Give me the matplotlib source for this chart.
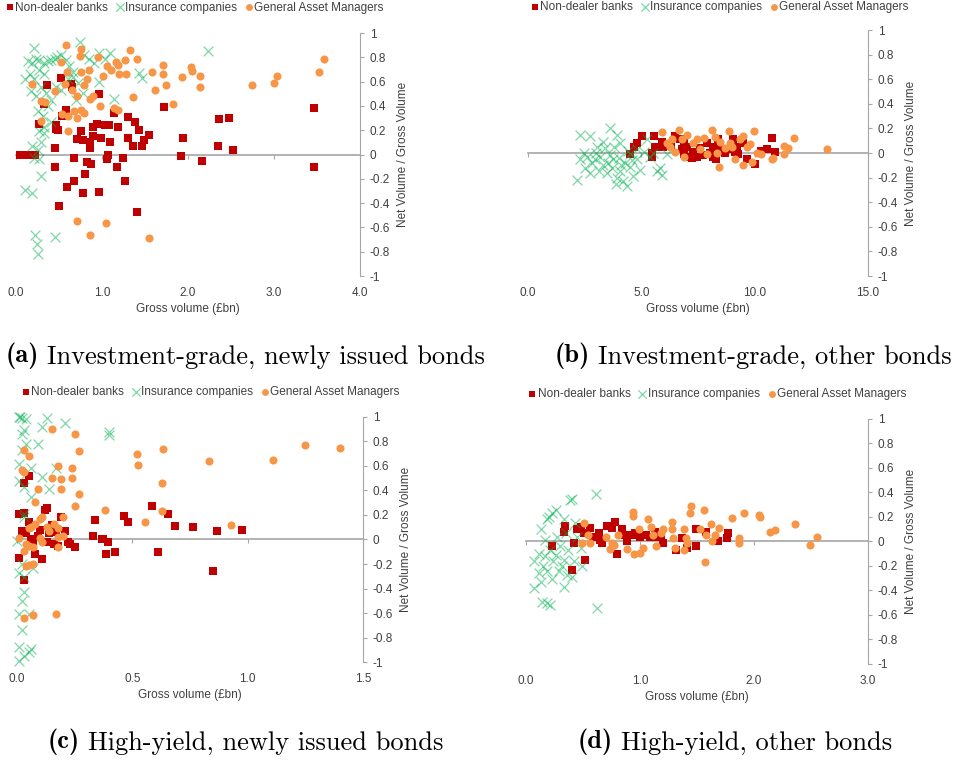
import numpy as np
import matplotlib
matplotlib.use('Agg')
import matplotlib.pyplot as plt
from matplotlib.ticker import FuncFormatter, FixedLocator

plt.rcParams['font.family'] = ['Liberation Sans', 'DejaVu Sans']
plt.rcParams['axes.unicode_minus'] = False

#%% data (x = gross volume in bn, y = net / gross)
# (a) investment-grade, newly issued
a_bank_x = [0.05,0.10,0.15,0.22,0.36,0.32,0.27,0.52,0.64,0.65,0.58,0.53,0.47,0.46,0.49,0.45,0.45,
            0.59,0.50,0.67,0.68,0.78,0.80,0.83,0.87,0.86,0.86,0.76,0.78,0.71,0.90,0.90,0.94,0.97,
            0.96,0.99,1.04,1.08,1.07,1.06,1.09,1.14,1.19,1.18,1.24,1.27,1.30,1.30,1.36,1.38,1.41,
            1.43,1.47,1.49,1.55,1.72,1.94,1.92,2.16,2.35,2.36,2.48,2.52,3.46,3.47]
a_bank_y = [0,0,0,0,0.57,0.42,0.25,0.63,0.58,0.56,0.37,0.32,0.24,0.21,0.20,0.05,-0.10,
            -0.27,-0.42,-0.22,-0.03,-0.32,-0.16,-0.06,-0.08,0.05,0.10,0.19,0.12,0.13,0.15,0.23,0.25,0.50,
            -0.31,0.14,0.24,0.24,0.0,-0.04,0.10,0.34,0.23,-0.10,-0.03,-0.22,0.31,0.14,0.07,0.27,-0.47,
            0.20,0.07,0.12,0.16,0.39,0.14,-0.01,-0.05,0.07,0.29,0.30,0.04,0.38,-0.10]
a_ins_x = [0.21,0.74,2.23,0.14,0.19,0.23,0.27,0.33,0.37,0.41,0.45,0.48,0.52,0.58,0.62,0.66,0.79,0.85,
           0.91,0.97,1.03,1.09,0.10,0.16,0.21,0.27,0.33,0.17,0.23,0.29,0.35,0.41,0.47,0.52,0.60,0.66,
           0.72,0.78,0.70,0.97,1.14,1.43,1.47,0.25,0.31,0.37,0.41,0.33,0.27,0.33,0.19,0.25,0.29,0.21,
           0.27,0.29,0.10,0.19,0.22,0.45,0.24,0.26]
a_ins_y = [0.88,0.93,0.85,0.77,0.75,0.79,0.78,0.75,0.77,0.78,0.79,0.80,0.82,0.78,0.73,0.68,0.82,0.79,
           0.75,0.84,0.79,0.84,0.62,0.66,0.62,0.70,0.66,0.52,0.48,0.56,0.51,0.45,0.56,0.53,0.62,0.64,
           0.59,0.51,0.45,0.60,0.46,0.67,0.63,0.36,0.32,0.40,0.27,0.23,0.19,0.18,0.07,0.04,0.10,-0.03,
           -0.04,-0.18,-0.29,-0.32,-0.66,-0.68,-0.74,-0.82]
a_gam_x = [0.58,0.76,0.74,0.52,0.59,0.75,0.85,0.95,1.01,1.06,1.10,1.16,1.19,1.20,1.27,1.28,1.32,1.41,
           1.58,1.62,1.71,1.71,1.74,1.83,1.93,2.03,2.05,2.14,2.14,2.74,3.00,3.04,3.52,3.58,0.19,0.29,
           0.34,0.29,0.45,0.57,0.65,0.71,0.79,0.82,0.86,0.90,0.98,0.68,0.76,0.79,0.71,0.60,0.54,0.60,
           1.14,1.19,1.36,0.71,1.05,0.86,1.55]
a_gam_y = [0.90,0.87,0.81,0.76,0.68,0.68,0.70,0.80,0.65,0.73,0.70,0.76,0.74,0.66,0.78,0.66,0.86,0.79,
           0.68,0.53,0.74,0.66,0.57,0.42,0.64,0.72,0.69,0.65,0.56,0.57,0.59,0.65,0.68,0.79,0.58,0.44,
           0.43,0.28,0.52,0.58,0.53,0.48,0.57,0.62,0.46,0.48,0.40,0.36,0.37,0.34,0.30,0.32,0.33,0.19,
           0.38,0.37,0.47,-0.55,-0.56,-0.66,-0.69]

# (b) investment-grade, other
b_bank_x = [4.48,4.68,4.80,5.02,5.46,5.46,5.54,5.61,5.90,5.97,6.49,6.71,6.78,6.86,7.0,7.22,7.44,7.59,
            7.88,8.03,8.18,8.40,8.47,8.69,9.06,9.21,9.28,9.65,10.02,10.53,10.75,10.90,9.13,7.3,8.18,
            6.3,6.9,7.7,8.3,8.9,9.5,10.3,7.0]
b_bank_y = [-0.01,0.05,0.08,0.14,0.0,-0.03,0.14,0.05,0.09,0.05,0.14,0.11,0.03,-0.01,0.05,-0.04,-0.03,0.04,
            0.08,0.0,-0.03,0.11,0.05,0.0,0.11,0.05,-0.01,-0.05,-0.09,0.03,0.12,0.01,0.01,0.01,0.05,
            0.06,0.08,-0.02,-0.05,0.03,0.08,0.02,-0.03]
b_ins_x = [2.3,2.75,3.63,3.33,3.92,4.06,3.04,2.45,2.3,2.16,2.75,2.97,3.19,3.55,3.77,3.48,3.70,4.06,4.36,
           4.21,3.92,4.51,4.80,4.95,4.65,4.80,5.10,5.39,5.68,5.83,6.12,5.9,2.6,2.82,4.51,4.29,3.4,3.11,
           5.24,5.53,3.0,3.6,4.0,4.4,3.8,3.3,4.6,2.5,3.9,4.1]
b_ins_y = [0.15,0.14,0.20,0.09,0.15,0.08,0.05,0,-0.05,-0.22,-0.16,-0.05,-0.03,-0.08,-0.05,-0.16,-0.12,-0.15,
           -0.27,-0.23,-0.20,-0.11,-0.05,-0.14,-0.19,0.03,0.01,-0.03,-0.15,-0.12,-0.01,-0.18,-0.03,-0.08,
           -0.01,-0.08,0.04,-0.15,0.11,0.0,0.0,-0.02,-0.04,0.02,0.05,-0.10,-0.06,-0.12,-0.25,-0.10]
b_gam_x = [5.9,6.34,6.27,6.49,6.64,6.78,6.89,7.03,7.30,7.44,7.59,7.77,7.88,8.10,8.25,8.36,8.41,8.47,8.69,
           8.88,8.99,9.13,9.35,9.50,9.50,9.65,9.79,9.87,9.97,10.09,10.28,10.75,10.82,11.29,11.48,11.29,
           11.73,13.2,6.12,8.91]
b_gam_y = [0.17,0.11,0.05,0.01,0.19,0.11,-0.03,0.15,0.08,0.11,0.03,0.12,-0.01,0.19,0.13,0.0,-0.11,0.09,0.04,
           0.18,0.05,-0.05,0.11,0.14,-0.10,0.05,0.07,-0.07,0.18,0.0,-0.01,-0.05,-0.04,0.06,0.04,-0.01,
           0.12,0.03,0.08,0.08]

# (c) high-yield, newly issued
c_bank_x = [0.03,0.05,0.01,0.03,0.02,0.01,0.03,0.05,0.07,0.08,0.11,0.12,0.13,0.14,0.16,0.16,0.18,0.19,
            0.21,0.22,0.23,0.25,0.33,0.34,0.465,0.48,0.587,0.656,0.685,0.763,0.868,0.977,0.848,0.613,
            0.426,0.384,0.396,0.374,0.367,0.04,0.06,0.09,0.10,0.15,0.17,0.13]
c_bank_y = [0.46,0.52,0.21,0.22,0.07,-0.15,-0.33,0.14,-0.01,-0.12,-0.16,0.24,0.26,0.05,-0.04,0.09,-0.05,0.18,
            0.07,-0.02,-0.04,-0.06,0.03,0.16,0.195,0.14,0.276,0.21,0.108,0.10,0.07,0.075,-0.258,-0.10,
            -0.10,-0.12,-0.02,0.0,0.0,0.05,0.0,0.03,0.08,0.12,0.06,-0.02]
c_ins_x = [0.01,0.015,0.02,0.04,0.13,0.11,0.21,0.09,0.04,0.02,0.03,0.02,0.40,0.40,0.01,0.06,0.11,0.17,
           0.14,0.03,0.01,0.06,0.03,0.03,0.0,0.02,0.01,0.03,0.03,0.02,0.01,0.05,0.02,0.01,0.05,0.03,
           0.01,0.06,0.07]
c_ins_y = [1.0,1.0,0.99,0.98,0.99,0.92,0.95,0.78,0.78,0.86,0.89,0.73,0.88,0.85,0.62,0.58,0.51,0.58,
           0.41,0.43,0.48,0.35,0.18,0.21,-0.01,-0.20,-0.27,-0.31,-0.43,-0.50,-0.61,-0.61,-0.74,-0.88,
           -0.92,-0.95,-0.99,-0.89,-0.23]
c_gam_x = [0.15,0.25,0.27,0.03,0.05,0.02,0.03,0.15,0.18,0.24,0.19,0.24,0.19,0.09,0.27,0.08,0.25,0.38,
           0.11,0.10,0.20,0.05,0.01,0.06,0.08,0.13,0.14,0.18,0.20,0.04,0.05,0.07,0.03,0.10,0.11,0.18,
           0.04,0.05,0.07,0.03,0.07,0.17,0.18,0.16,0.52,0.523,0.633,0.63,0.627,0.555,0.832,0.926,1.11,
           1.25,1.40]
c_gam_y = [0.90,0.86,0.72,0.73,0.68,0.57,0.55,0.50,0.60,0.58,0.49,0.50,0.41,0.41,0.37,0.31,0.27,0.24,
           0.18,0.17,0.18,0.09,0.01,0.10,0.13,0.10,0.07,0.09,0.03,-0.04,-0.05,-0.06,-0.09,0.01,-0.02,-0.06,
           -0.22,-0.21,-0.20,-0.64,-0.62,-0.61,0.02,0.13,0.70,0.61,0.737,0.463,0.236,0.143,0.637,0.122,0.65,
           0.77,0.75]

# (d) high-yield, other
d_bank_x = [0.23,0.34,0.33,0.40,0.42,0.45,0.48,0.52,0.56,0.59,0.64,0.67,0.71,0.75,0.78,0.80,0.84,0.89,
            0.93,0.96,1.0,1.05,1.09,1.13,1.18,1.20,1.32,1.37,1.41,1.49,1.49,1.58,1.68,1.77,1.76,0.65,
            0.51,1.12,0.87]
d_bank_y = [-0.04,0.13,0.08,-0.23,-0.01,0.10,0.12,-0.15,0.11,0.04,0.07,-0.01,0.13,0.11,0.16,-0.10,0.10,0.0,
            0.05,0.07,0.04,0.05,0.04,0.08,0.04,-0.01,-0.07,0.03,-0.05,0.10,-0.04,0.08,0.0,0.07,0.03,0.01,
            0.07,0.04,0.05]
d_ins_x = [0.61,0.39,0.40,0.20,0.23,0.26,0.18,0.13,0.33,0.43,0.17,0.27,0.35,0.45,0.11,0.21,0.30,0.37,
           0.48,0.07,0.15,0.24,0.33,0.42,0.49,0.11,0.18,0.29,0.36,0.13,0.07,0.23,0.33,0.40,0.14,0.21,
           0.18,0.62,0.26,0.17,0.32]
d_ins_y = [0.39,0.34,0.35,0.20,0.23,0.26,0.18,0.10,0.18,0.15,0.01,0.04,0.07,0.04,-0.10,-0.07,-0.04,-0.07,
           -0.05,-0.16,-0.20,-0.16,-0.15,-0.16,-0.20,-0.26,-0.24,-0.24,-0.27,-0.33,-0.38,-0.31,-0.37,-0.29,
           -0.49,-0.52,-0.50,-0.54,-0.11,-0.12,-0.20]
d_gam_x = [0.51,0.49,0.54,0.56,0.70,0.75,0.74,0.77,0.81,0.89,0.94,0.94,0.95,0.99,1.0,1.03,1.07,1.10,1.11,
           1.14,1.18,1.20,1.28,1.28,1.29,1.31,1.39,1.40,1.39,1.44,1.45,1.41,1.53,1.56,1.57,1.58,1.62,1.63,
           1.66,1.69,1.81,1.87,1.87,1.91,2.04,2.05,2.14,2.18,2.36,2.49,2.55]
d_gam_y = [0.15,-0.01,0.05,-0.01,0.04,-0.01,-0.06,-0.03,0.05,-0.06,0.24,0.21,-0.10,0.10,-0.09,-0.05,0.18,0.12,0.05,
           -0.04,0.07,0.10,0.16,0.10,0.03,-0.05,0.10,0.03,-0.07,0.23,0.29,-0.01,0.10,0.26,-0.17,0.05,0.14,0.0,
           0.05,0.11,0.19,0.03,-0.01,0.23,0.22,0.20,0.08,0.09,0.14,-0.03,0.04]

cap_tags = ['(a)', '(b)', '(c)', '(d)']
cap_texts = ['Investment-grade, newly issued bonds', 'Investment-grade, other bonds',
             'High-yield, newly issued bonds', 'High-yield, other bonds']

RED = '#C00000'
GREEN = '#00B050'
ORANGE = '#F79646'
TXT = '#404040'
AXC = '#A6A6A6'

fig = plt.figure(figsize=(9.59, 7.64), dpi=100)


def draw_panel(rect, bx, by, ix, iy, gx, gy, xmax, xstep, leg_x, leg_y):
    ax = fig.add_axes(rect)
    ax.scatter(bx, by, marker='s', s=32, c=RED, lw=0, clip_on=False, zorder=3, label='Non-dealer banks')
    ax.scatter(ix, iy, marker='x', s=50, c=GREEN, alpha=0.5, lw=0.9, clip_on=False, zorder=3,
               label='Insurance companies')
    ax.scatter(gx, gy, marker='o', s=34, c=ORANGE, lw=0, clip_on=False, zorder=3,
               label='General Asset Managers')
    ax.set_xlim(0, xmax)
    ax.set_ylim(-1, 1)
    ax.spines['top'].set_visible(False)
    ax.spines['left'].set_visible(False)
    ax.spines['bottom'].set_position(('data', 0))
    ax.spines['bottom'].set_color(AXC)
    ax.spines['bottom'].set_linewidth(1.2)
    ax.spines['right'].set_color(AXC)
    ax.yaxis.tick_right()
    ax.yaxis.set_label_position('right')
    ax.set_yticks(np.arange(-1, 1.01, 0.2))
    ax.yaxis.set_major_formatter(FuncFormatter(lambda v, p: '%g' % (round(v, 1) + 0.0)))
    xt = np.arange(0, xmax + xstep / 2, xstep)
    ax.xaxis.set_major_locator(FixedLocator(xt))
    ax.tick_params(axis='x', direction='out', length=3, color=AXC, labelbottom=False)
    ax.tick_params(axis='y', direction='out', length=3, color=AXC, labelsize=8.5,
                   labelcolor=TXT, pad=4)
    ax.set_ylabel('Net Volume / Gross Volume', fontsize=8.5, color=TXT, labelpad=5)

    # x tick labels sit low, below the plot area
    sec = ax.secondary_xaxis(0)
    sec.spines['bottom'].set_visible(False)
    sec.xaxis.set_major_locator(FixedLocator(xt))
    sec.xaxis.set_major_formatter(FuncFormatter(lambda v, p: '%.1f' % v))
    sec.tick_params(length=0, labelsize=8.5, labelcolor=TXT, pad=8)
    sec.set_xlabel('Gross volume (£bn)', fontsize=8.5, color=TXT, labelpad=3)

    ax.legend(loc='center', bbox_to_anchor=(leg_x, leg_y), ncol=3, frameon=False, fontsize=8.5,
              handlelength=0.6, handletextpad=0.15, columnspacing=0.7, borderpad=0,
              labelcolor=TXT, markerscale=0.85)
    return ax


ax_a = draw_panel([0.0167, 0.6387, 0.3587, 0.318], a_bank_x, a_bank_y, a_ins_x, a_ins_y,
                  a_gam_x, a_gam_y, 4.0, 1.0, 0.52, 1.105)
draw_panel([0.5506, 0.6387, 0.3545, 0.322], b_bank_x, b_bank_y, b_ins_x, b_ins_y,
           b_gam_x, b_gam_y, 15.0, 5.0, 0.565, 1.095)
draw_panel([0.0177, 0.1335, 0.3608, 0.3207], c_bank_x, c_bank_y, c_ins_x, c_ins_y,
           c_gam_x, c_gam_y, 1.5, 0.5, 0.56, 1.10)
draw_panel([0.5485, 0.1309, 0.3566, 0.3207], d_bank_x, d_bank_y, d_ins_x, d_ins_y,
           d_gam_x, d_gam_y, 3.0, 1.0, 0.56, 1.10)

# sub-captions: bold tag, then roman text right after it
cap_pos = [(0.006, 0.535), (0.578, 0.535), (0.050, 0.029), (0.602, 0.029)]
for (cx, cy), tag, txt in zip(cap_pos, cap_tags, cap_texts):
    t = fig.text(cx, cy, tag, fontfamily='cmb10', fontsize=19, ha='left', va='center')
    ax_a.annotate(txt, xy=(1, 0), xycoords=t, xytext=(6, 0), textcoords='offset points',
                  ha='left', va='bottom', fontfamily='cmr10', fontsize=19, annotation_clip=False)

fig.savefig('out.png', dpi=100)
